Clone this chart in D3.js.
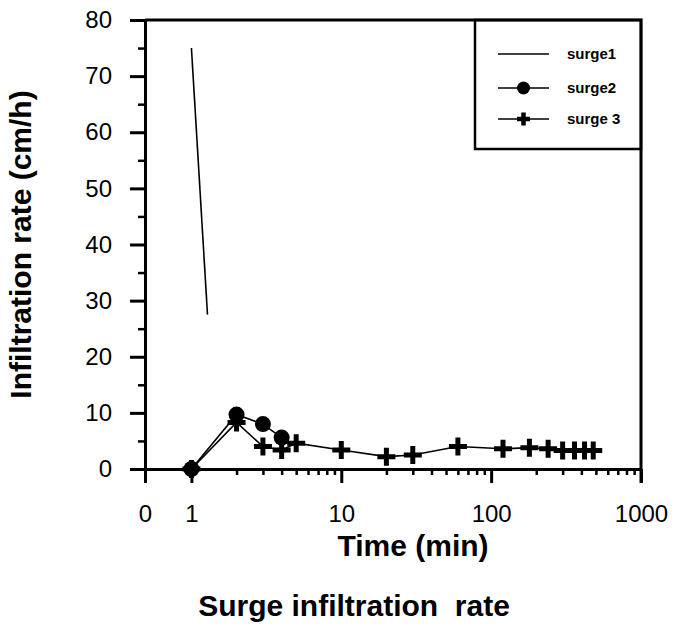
<!DOCTYPE html>
<html>
<head>
<meta charset="utf-8">
<script src="https://cdn.jsdelivr.net/npm/d3@7"></script>
<style>
  body { margin: 0; background: #fff; }
  svg { display: block; font-family: "Liberation Sans", Arial, sans-serif; }
</style>
</head>
<body>
<div id="chart"></div>
<script>
// data
const surge1Time = [1, 1.28];
const surge1Rate = [75, 27.5];
const surge2Time = [1, 2, 3, 4];
const surge2Rate = [0, 9.7, 8.0, 5.6];
const surge3Time = [1, 2, 3, 4, 5, 10, 20, 30, 60, 120, 180, 240, 300, 360, 420, 480];
const surge3Rate = [0, 8.3, 4.0, 3.4, 4.6, 3.4, 2.2, 2.5, 4.0, 3.6, 3.8, 3.6, 3.3, 3.3, 3.3, 3.3];
const seriesNames = ["surge1", "surge2", "surge 3"];
const xTickLabels = ["0", "1", "10", "100", "1000"];
const yTicks = [0, 10, 20, 30, 40, 50, 60, 70, 80];

const width = 675;
const height = 626;
const margin = { top: 20, right: 34, bottom: 157, left: 145 };
const x0 = 0.49; // left end of the log axis, labelled "0"

const svg = d3.select("#chart").append("svg")
  .attr("width", width)
  .attr("height", height);

const scaleX = d3.scaleLog()
  .domain([x0, 1000])
  .range([margin.left, width - margin.right]);
const scaleY = d3.scaleLinear()
  .domain([0, 80])
  .range([height - margin.bottom, margin.top]);

const plotBottom = height - margin.bottom;
const plotRight = width - margin.right;

// minor ticks
const minorX = [];
[1, 10, 100].forEach((d) => { for (let k = 2; k <= 9; k++) minorX.push(d * k); });
const minorY = d3.range(5, 80, 10);

svg.append("g")
  .attr("transform", `translate(0,${plotBottom})`)
  .call(d3.axisBottom(scaleX).tickValues(minorX).tickSize(6).tickFormat(""))
  .call((g) => g.select(".domain").remove())
  .call((g) => g.selectAll("line").attr("stroke-width", 2.5));

svg.append("g")
  .attr("transform", `translate(${margin.left},0)`)
  .call(d3.axisLeft(scaleY).tickValues(minorY).tickSize(7).tickFormat(""))
  .call((g) => g.select(".domain").remove())
  .call((g) => g.selectAll("line").attr("stroke-width", 2.5));

// major axes
const majorX = [x0, 1, 10, 100, 1000];
svg.append("g")
  .attr("transform", `translate(0,${plotBottom})`)
  .call(d3.axisBottom(scaleX).tickValues(majorX).tickSizeInner(14).tickSizeOuter(0)
    .tickPadding(22).tickFormat((d, i) => xTickLabels[i]))
  .call((g) => g.select(".domain").attr("stroke-width", 3))
  .call((g) => g.selectAll("line").attr("stroke-width", 3))
  .call((g) => g.selectAll("text").attr("font-size", 24).attr("fill", "#000")
    .attr("font-family", "Liberation Sans, Arial, sans-serif"));

svg.append("g")
  .attr("transform", `translate(${margin.left},0)`)
  .call(d3.axisLeft(scaleY).tickValues(yTicks).tickSizeInner(15).tickSizeOuter(0).tickPadding(18))
  .call((g) => g.select(".domain").attr("stroke-width", 3))
  .call((g) => g.selectAll("line").attr("stroke-width", 3))
  .call((g) => g.selectAll("text").attr("font-size", 24).attr("fill", "#000")
    .attr("font-family", "Liberation Sans, Arial, sans-serif"));

// series
const line = d3.line().x((d) => scaleX(d[0])).y((d) => scaleY(d[1]));
const s1 = surge1Time.map((t, i) => [t, surge1Rate[i]]);
const s2 = surge2Time.map((t, i) => [t, surge2Rate[i]]);
const s3 = surge3Time.map((t, i) => [t, surge3Rate[i]]);

const plusPath = (r) => `M${-r},0H${r}M0,${-r}V${r}`;

[s1, s2, s3].forEach((s) => {
  svg.append("path").datum(s)
    .attr("d", line)
    .attr("fill", "none")
    .attr("stroke", "#000")
    .attr("stroke-width", 1.6);
});

svg.append("g").selectAll("circle")
  .data(s2)
  .join("circle")
  .attr("cx", (d) => scaleX(d[0]))
  .attr("cy", (d) => scaleY(d[1]))
  .attr("r", 8)
  .attr("fill", "#000");

svg.append("g").selectAll("path")
  .data(s3)
  .join("path")
  .attr("transform", (d) => `translate(${scaleX(d[0])},${scaleY(d[1])})`)
  .attr("d", plusPath(9))
  .attr("stroke", "#000")
  .attr("stroke-width", 5)
  .attr("fill", "none");

// legend
const legend = svg.append("g");
legend.append("rect")
  .attr("x", 475).attr("y", margin.top)
  .attr("width", plotRight - 475).attr("height", 129)
  .attr("fill", "#fff")
  .attr("stroke", "#000")
  .attr("stroke-width", 2.5);

const legendY = [54, 88, 119];
seriesNames.forEach((name, i) => {
  const g = legend.append("g").attr("transform", `translate(0,${legendY[i]})`);
  g.append("line")
    .attr("x1", 498).attr("x2", 549)
    .attr("stroke", "#000").attr("stroke-width", 1.6);
  if (i === 1) {
    g.append("circle").attr("cx", 523.5).attr("r", 6.5).attr("fill", "#000");
  }
  if (i === 2) {
    g.append("path").attr("transform", "translate(523.5,0)")
      .attr("d", plusPath(6.5))
      .attr("stroke", "#000").attr("stroke-width", 4.5);
  }
  g.append("text")
    .attr("x", 567).attr("dy", "0.35em")
    .attr("font-size", 15)
    .attr("font-weight", "bold")
    .text(name);
});

// frame: top and right
svg.append("path")
  .attr("d", `M${margin.left},${margin.top}H${plotRight}V${plotBottom + 14}`)
  .attr("fill", "none")
  .attr("stroke", "#000")
  .attr("stroke-width", 3);

// titles
svg.append("text")
  .attr("transform", `translate(31,${(margin.top + plotBottom) / 2}) rotate(-90)`)
  .attr("text-anchor", "middle")
  .attr("font-size", 30)
  .attr("font-weight", "bold")
  .text("Infiltration rate (cm/h)");

svg.append("text")
  .attr("x", 413).attr("y", 556)
  .attr("text-anchor", "middle")
  .attr("font-size", 30)
  .attr("font-weight", "bold")
  .text("Time (min)");

svg.append("text")
  .attr("x", 354).attr("y", 616)
  .attr("text-anchor", "middle")
  .attr("font-size", 30)
  .attr("font-weight", "bold")
  .style("white-space", "pre")
  .text("Surge infiltration  rate");
</script>
</body>
</html>
